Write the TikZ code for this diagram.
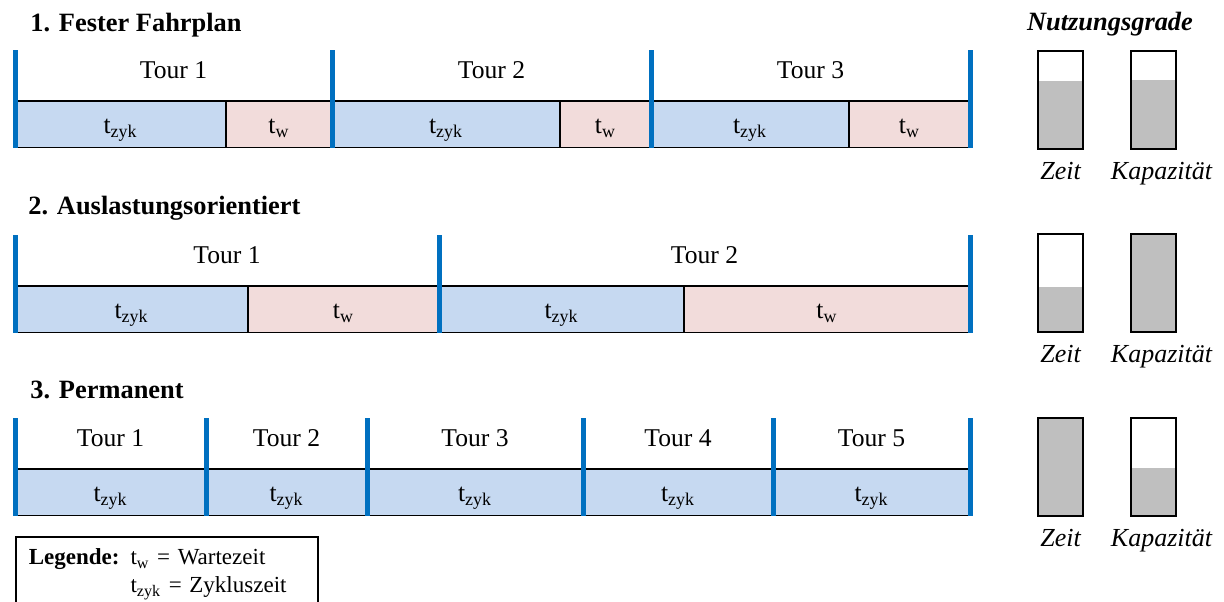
\documentclass[tikz,border=0pt]{standalone}
\usepackage{fontspec}
\setmainfont{Liberation Serif}
\usetikzlibrary{positioning}

\definecolor{zykblau}{HTML}{C6D9F1}
\definecolor{wartrosa}{HTML}{F2DCDB}
\definecolor{balkenblau}{HTML}{0070C0}
\definecolor{fuellgrau}{HTML}{BFBFBF}

\newcommand{\tzyk}{t\textsubscript{zyk}}
\newcommand{\tw}{t\textsubscript{w}}

\begin{document}
\begin{tikzpicture}[
    node distance=0pt,
    every node/.style={font=\fontsize{12.8}{15}\selectfont},
    titel/.style={font=\fontsize{13.2}{16}\selectfont\bfseries, anchor=base west, inner sep=0pt},
    tour/.style={minimum height=25.5pt, text depth=5.5pt, inner sep=0pt, outer sep=0pt},
    zelle/.style={draw, line width=0.8pt, minimum height=23.25pt, text height=12pt, text depth=2.5pt, inner sep=0pt, outer sep=0pt},
    zyk/.style={zelle, fill=zykblau},
    wart/.style={zelle, fill=wartrosa},
    balken/.style={balkenblau, line width=2.5pt},
    gauge/.style={draw, line width=0.8pt, minimum width=22.5pt, minimum height=49pt, inner sep=0pt, anchor=north,
        path picture={\fill[fuellgrau] (path picture bounding box.south west) rectangle ([yshift=#1]path picture bounding box.south east);}},
    nutzlabel/.style={font=\fontsize{13}{15}\selectfont\itshape, anchor=base, inner sep=0pt}
]
\useasboundingbox (0,0) rectangle (612pt,-300.5pt);

% 第一行
\node[titel] (titel1) at (15pt,-15.5pt) {1. Fester Fahrplan};
\node[tour, minimum width=158.5pt, anchor=north west] (f1) at (7.5pt,-25pt) {Tour 1};
\node[tour, minimum width=159.5pt, right=of f1] (f2) {Tour 2};
\node[tour, minimum width=159.5pt, right=of f2] (f3) {Tour 3};

\node[zyk, minimum width=105.5pt, below right=of f1.south west] (f1z) {\tzyk};
\node[wart, minimum width=53pt, right=of f1z] (f1w) {\tw};
\node[zyk, minimum width=114pt, below right=of f2.south west] (f2z) {\tzyk};
\node[wart, minimum width=45.5pt, right=of f2z] (f2w) {\tw};
\node[zyk, minimum width=99pt, below right=of f3.south west] (f3z) {\tzyk};
\node[wart, minimum width=60.5pt, right=of f3z] (f3w) {\tw};

\draw[balken] (f1.north west) -- (f1z.south west);
\draw[balken] (f2.north west) -- (f2z.south west);
\draw[balken] (f3.north west) -- (f3z.south west);
\draw[balken] (f3.north east) -- (f3w.south east);

% 第二行
\node[titel] (titel2) at (14pt,-107pt) {2. Auslastungsorientiert};
\node[tour, minimum width=212pt, anchor=north west] (a1) at (7.5pt,-117.5pt) {Tour 1};
\node[tour, minimum width=265.5pt, right=of a1] (a2) {Tour 2};

\node[zyk, minimum width=116.5pt, below right=of a1.south west] (a1z) {\tzyk};
\node[wart, minimum width=95.5pt, right=of a1z] (a1w) {\tw};
\node[zyk, minimum width=122.5pt, below right=of a2.south west] (a2z) {\tzyk};
\node[wart, minimum width=143pt, right=of a2z] (a2w) {\tw};

\draw[balken] (a1.north west) -- (a1z.south west);
\draw[balken] (a2.north west) -- (a2z.south west);
\draw[balken] (a2.north east) -- (a2w.south east);

% 第三行
\node[titel] (titel3) at (15pt,-199pt) {3. Permanent};
\node[tour, minimum width=95.5pt, anchor=north west] (p1) at (7.5pt,-209pt) {Tour 1};
\node[tour, minimum width=80.5pt, right=of p1] (p2) {Tour 2};
\node[tour, minimum width=108pt, right=of p2] (p3) {Tour 3};
\node[tour, minimum width=95pt, right=of p3] (p4) {Tour 4};
\node[tour, minimum width=98.5pt, right=of p4] (p5) {Tour 5};

\node[zyk, minimum width=95.5pt, below right=of p1.south west] (p1z) {\tzyk};
\node[zyk, minimum width=80.5pt, right=of p1z] (p2z) {\tzyk};
\node[zyk, minimum width=108pt, right=of p2z] (p3z) {\tzyk};
\node[zyk, minimum width=95pt, right=of p3z] (p4z) {\tzyk};
\node[zyk, minimum width=98.5pt, right=of p4z] (p5z) {\tzyk};

\draw[balken] (p1.north west) -- (p1z.south west);
\draw[balken] (p2.north west) -- (p2z.south west);
\draw[balken] (p3.north west) -- (p3z.south west);
\draw[balken] (p4.north west) -- (p4z.south west);
\draw[balken] (p5.north west) -- (p5z.south west);
\draw[balken] (p5.north east) -- (p5z.south east);

% 图例
\node[draw, line width=0.8pt, anchor=north west, text width=138pt, align=left,
      inner xsep=6.5pt, inner ysep=4pt, font=\fontsize{11.5}{14}\selectfont] (legende) at (7.5pt,-268pt)
    {\begin{tabular}{@{}l@{\hspace{5.5pt}}l@{}}
     \textbf{Legende:} & \tw{} = Wartezeit\\
                       & \tzyk{} = Zykluszeit
     \end{tabular}};

% 右侧：Nutzungsgrade
\node[font=\fontsize{13.2}{16}\selectfont\bfseries\itshape, anchor=base, inner sep=0pt] (nutz) at (555pt,-15pt) {Nutzungsgrade};

\node[gauge=34pt] (zeit1) at (530.25pt,-25pt) {};
\node[gauge=34.5pt] (kap1) at (576.75pt,-25pt) {};
\node[nutzlabel, below=15pt of zeit1, anchor=base] {Zeit};
\node[nutzlabel, below=15pt of kap1, anchor=base, xshift=4pt] {Kapazität};

\node[gauge=22.5pt] (zeit2) at (530.25pt,-116.5pt) {};
\node[gauge=49pt] (kap2) at (576.75pt,-116.5pt) {};
\node[nutzlabel, below=15pt of zeit2, anchor=base] {Zeit};
\node[nutzlabel, below=15pt of kap2, anchor=base, xshift=4pt] {Kapazität};

\node[gauge=49pt] (zeit3) at (530.25pt,-208.5pt) {};
\node[gauge=24pt] (kap3) at (576.75pt,-208.5pt) {};
\node[nutzlabel, below=15pt of zeit3, anchor=base] {Zeit};
\node[nutzlabel, below=15pt of kap3, anchor=base, xshift=4pt] {Kapazität};

\end{tikzpicture}
\end{document}
